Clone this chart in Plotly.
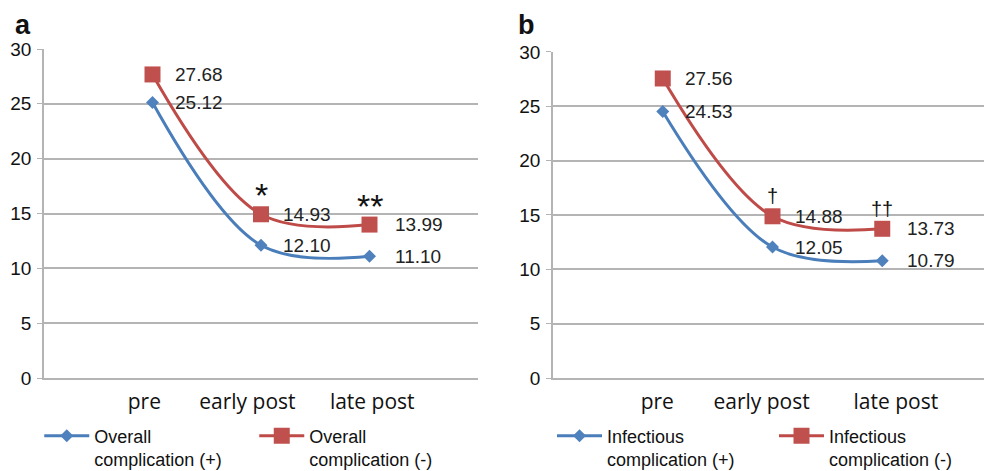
import plotly.graph_objects as go

categories = ["pre", "early post", "late post"]
a_pos = [25.12, 12.10, 11.10]
a_neg = [27.68, 14.93, 13.99]
b_pos = [24.53, 12.05, 10.79]
b_neg = [27.56, 14.88, 13.73]
a_marks = ["", "*", "**"]
b_marks = ["", "\u2020", "\u2020\u2020"]
a_names = ["Overall<br>complication (+)", "Overall<br>complication (-)"]
b_names = ["Infectious<br>complication (+)", "Infectious<br>complication (-)"]
y_ticks = [0, 5, 10, 15, 20, 25, 30]

NB = "\u00a0"
a_ticktext = ["pre" + NB * 3, "early post" + NB * 5, NB + "late post"]
b_ticktext = ["pre" + NB * 2, "early post" + NB * 4, NB * 5 + "late post"]

BLUE_LINE = "#4A7EBB"
BLUE_MK = "#4F81BD"
RED_LINE = "#BE4B48"
RED_MK = "#C0504D"
GRID = "#B4B4B4"
FONT = "Liberation Sans, Arial, sans-serif"

fig = go.Figure()

panels = [
    ("x", "y", a_pos, a_neg, a_names, a_marks, "legend", 34, 19),
    ("x2", "y2", b_pos, b_neg, b_names, b_marks, "legend2", 20, 20),
]

for xa, ya, pos, neg, names, marks, lg, msize, mshift in panels:
    fig.add_trace(go.Scatter(
        x=categories, y=pos, xaxis=xa, yaxis=ya, name=names[0], legend=lg,
        mode="lines+markers", line=dict(color=BLUE_LINE, width=3, shape="spline"),
        marker=dict(symbol="diamond", size=10, color=BLUE_MK),
    ))
    fig.add_trace(go.Scatter(
        x=categories, y=neg, xaxis=xa, yaxis=ya, name=names[1], legend=lg,
        mode="lines+markers", line=dict(color=RED_LINE, width=3, shape="spline"),
        marker=dict(symbol="square", size=16, color=RED_MK),
    ))
    for i, (c, v) in enumerate(zip(categories, pos)):
        fig.add_annotation(x=c, y=v, xref=xa, yref=ya, text=f"{v:.2f}", showarrow=False,
                           xanchor="left", yanchor="middle", xshift=20 if i < 2 else 23,
                           font=dict(family=FONT, size=19, color="#222"))
    for i, (c, v) in enumerate(zip(categories, neg)):
        fig.add_annotation(x=c, y=v, xref=xa, yref=ya, text=f"{v:.2f}", showarrow=False,
                           xanchor="left", yanchor="middle", xshift=20 if i < 2 else 23,
                           font=dict(family=FONT, size=19, color="#222"))
    for c, v, m in zip(categories, neg, marks):
        if m:
            fig.add_annotation(x=c, y=v, xref=xa, yref=ya, text=m, showarrow=False,
                               xanchor="center", yanchor="middle", yshift=mshift,
                               font=dict(family=FONT, size=msize, color="#111"))

xa_common = dict(showgrid=False, showline=True, linecolor=GRID, linewidth=1.5,
                 type="category", range=[-1, 3], ticks="", tickvals=categories,
                 tickangle=0,
                 tickfont=dict(family="Open Sans, sans-serif", size=21, color="#111"),
                 ticklabelstandoff=4, fixedrange=True)
ya_common = dict(range=[0, 30], tickvals=y_ticks, showgrid=True, gridcolor=GRID, gridwidth=1.5,
                 showline=True, linecolor=GRID, linewidth=1.5, ticks="outside", ticklen=5,
                 tickcolor=GRID, tickfont=dict(family=FONT, size=19, color="#111"),
                 ticklabelstandoff=2, zeroline=False)

# page body has an 8px margin, so the figure is 8px smaller and paper coords stay put
W = 948.0
leg_common = dict(orientation="h", y=-0.12, xanchor="left", yanchor="top",
                  valign="top", traceorder="normal", itemwidth=45,
                  font=dict(family=FONT, size=18, color="#111"), bgcolor="rgba(0,0,0,0)")
fig.update_layout(
    width=984, height=463,
    margin=dict(l=36, r=0, t=41, b=93, autoexpand=False),
    paper_bgcolor="white", plot_bgcolor="white",
    xaxis=dict(xa_common, ticktext=a_ticktext, domain=[0, 434 / W], anchor="y"),
    yaxis=dict(ya_common, domain=[0, 1], anchor="x"),
    xaxis2=dict(xa_common, ticktext=b_ticktext, domain=[509 / W, 1], anchor="y2"),
    yaxis2=dict(ya_common, domain=[0, 0.991], anchor="x2"),
    showlegend=True,
    legend=dict(leg_common, x=-0.005, entrywidth=155),
    legend2=dict(leg_common, x=508 / W, entrywidth=162),
    annotations=list(fig.layout.annotations) + [
        dict(text="<b>a</b>", x=-31 / W, y=1.073, xref="paper", yref="paper", showarrow=False,
             xanchor="left", yanchor="middle", font=dict(family=FONT, size=27, color="#111")),
        dict(text="<b>b</b>", x=472 / W, y=1.073, xref="paper", yref="paper", showarrow=False,
             xanchor="left", yanchor="middle", font=dict(family=FONT, size=27, color="#111")),
    ],
)

fig.write_html("out.html")
